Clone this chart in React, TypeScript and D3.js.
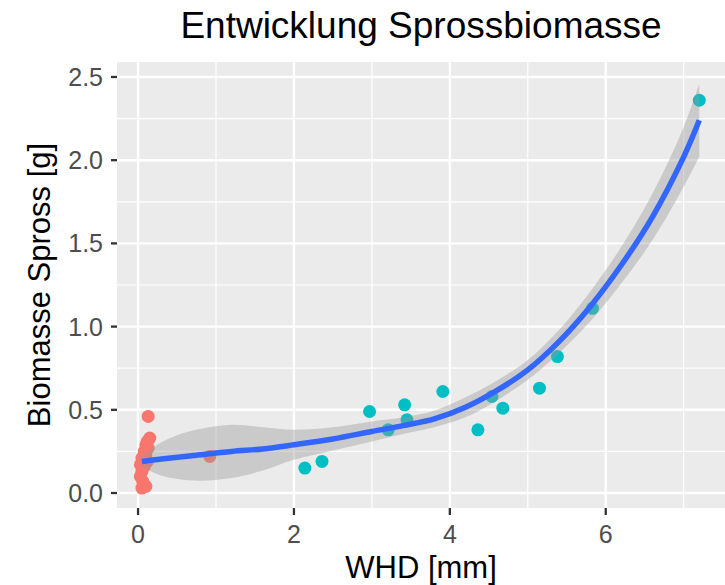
import React from 'react'
import * as d3 from 'd3'

// points, group 1 (red) and group 2 (teal)
const redX = [0.13, 0.15, 0.12, 0.10, 0.13, 0.08, 0.10, 0.05, 0.12, 0.03, 0.08, 0.05, 0.03, 0.06, 0.10, 0.05, 0.92]
const redY = [0.46, 0.33, 0.31, 0.29, 0.27, 0.25, 0.23, 0.21, 0.19, 0.17, 0.16, 0.13, 0.10, 0.07, 0.04, 0.03, 0.22]
const tealX = [2.14, 2.36, 2.97, 3.21, 3.42, 3.45, 3.91, 4.36, 4.54, 4.68, 5.15, 5.38, 5.83, 7.2]
const tealY = [0.15, 0.19, 0.49, 0.38, 0.53, 0.44, 0.61, 0.38, 0.58, 0.51, 0.63, 0.82, 1.11, 2.36]

// loess fit with standard error band
const fitX = [0.05, 0.3, 0.7, 1.2, 1.6, 2.0, 2.5, 3.0, 3.4, 3.8, 4.2, 4.6, 5.0, 5.4, 5.8, 6.2, 6.6, 7.0, 7.2]
const fitY = [0.19, 0.205, 0.225, 0.25, 0.265, 0.29, 0.325, 0.37, 0.405, 0.445, 0.515, 0.615, 0.74, 0.91, 1.12, 1.37, 1.66, 2.02, 2.24]
const fitSe = [0.03, 0.1, 0.15, 0.16, 0.13, 0.09, 0.07, 0.06, 0.05, 0.05, 0.06, 0.06, 0.06, 0.07, 0.09, 0.11, 0.14, 0.18, 0.22]

const xTicks = [0, 2, 4, 6]
const xMinor = [1, 3, 5, 7]
const yTicks = [0, 0.5, 1, 1.5, 2, 2.5]
const yMinor = [0.25, 0.75, 1.25, 1.75, 2.25]

const title = 'Entwicklung Sprossbiomasse'
const xTitle = 'WHD [mm]'
const yTitle = 'Biomasse Spross [g]'

const W = 725
const H = 585
const panel = { left: 117, right: 725, top: 62, bottom: 508 }
const font = "'Liberation Sans', Arial, sans-serif"

export default function App() {
  const x = d3.scaleLinear().domain([-0.27, 7.53]).range([panel.left, panel.right])
  const y = d3.scaleLinear().domain([-0.09, 2.59]).range([panel.bottom, panel.top])

  const fit = fitX.map((v, i) => ({ x: v, y: fitY[i], se: fitSe[i] }))
  const line = d3.line<any>().x(d => x(d.x)).y(d => y(d.y)).curve(d3.curveCatmullRom)
  const band = d3.area<any>().x(d => x(d.x)).y0(d => y(d.y - d.se)).y1(d => y(d.y + d.se)).curve(d3.curveCatmullRom)

  const midX = (panel.left + panel.right) / 2
  const midY = (panel.top + panel.bottom) / 2

  return (
    <div style={{ position: 'absolute', left: 0, top: 0 }}>
      <svg width={W} height={H} style={{ display: 'block', background: '#fff' }}>
        <defs>
          <clipPath id="pnl">
            <rect x={panel.left} y={panel.top} width={panel.right - panel.left} height={panel.bottom - panel.top} />
          </clipPath>
        </defs>
        <rect x={panel.left} y={panel.top} width={panel.right - panel.left} height={panel.bottom - panel.top} fill="#EBEBEB" />
        <g clipPath="url(#pnl)">
          {yMinor.map(t => <line key={'ym' + t} x1={panel.left} x2={panel.right} y1={y(t)} y2={y(t)} stroke="#fff" strokeWidth={1.2} />)}
          {xMinor.map(t => <line key={'xm' + t} y1={panel.top} y2={panel.bottom} x1={x(t)} x2={x(t)} stroke="#fff" strokeWidth={1.2} />)}
          {yTicks.map(t => <line key={'yg' + t} x1={panel.left} x2={panel.right} y1={y(t)} y2={y(t)} stroke="#fff" strokeWidth={2.4} />)}
          {xTicks.map(t => <line key={'xg' + t} y1={panel.top} y2={panel.bottom} x1={x(t)} x2={x(t)} stroke="#fff" strokeWidth={2.4} />)}
          {redX.map((v, i) => <circle key={'r' + i} cx={x(v)} cy={y(redY[i])} r={6.5} fill="#F8766D" />)}
          {tealX.map((v, i) => <circle key={'t' + i} cx={x(v)} cy={y(tealY[i])} r={6.5} fill="#00BFC4" />)}
          <path d={band(fit) || ''} fill="#999999" fillOpacity={0.4} />
          <path d={line(fit) || ''} fill="none" stroke="#3366FF" strokeWidth={5.5} />
        </g>
        {/* axes */}
        {yTicks.map(t => (
          <g key={'yt' + t}>
            <line x1={panel.left - 6} x2={panel.left} y1={y(t)} y2={y(t)} stroke="#333" strokeWidth={2.3} />
            <text x={panel.left - 14} y={y(t)} dy="0.36em" textAnchor="end" fontFamily={font} fontSize={25} fill="#4D4D4D">{d3.format('.1f')(t)}</text>
          </g>
        ))}
        {xTicks.map(t => (
          <g key={'xt' + t}>
            <line x1={x(t)} x2={x(t)} y1={panel.bottom} y2={panel.bottom + 7} stroke="#333" strokeWidth={2.3} />
            <text x={x(t)} y={543} textAnchor="middle" fontFamily={font} fontSize={25} fill="#4D4D4D">{t}</text>
          </g>
        ))}
        <text x={midX} y={578} textAnchor="middle" fontFamily={font} fontSize={31} fill="#000">{xTitle}</text>
        <text transform={`translate(50,${midY}) rotate(-90)`} textAnchor="middle" fontFamily={font} fontSize={31} fill="#000">{yTitle}</text>
        <text x={midX} y={38} textAnchor="middle" fontFamily={font} fontSize={37} fill="#000">{title}</text>
      </svg>
    </div>
  )
}
